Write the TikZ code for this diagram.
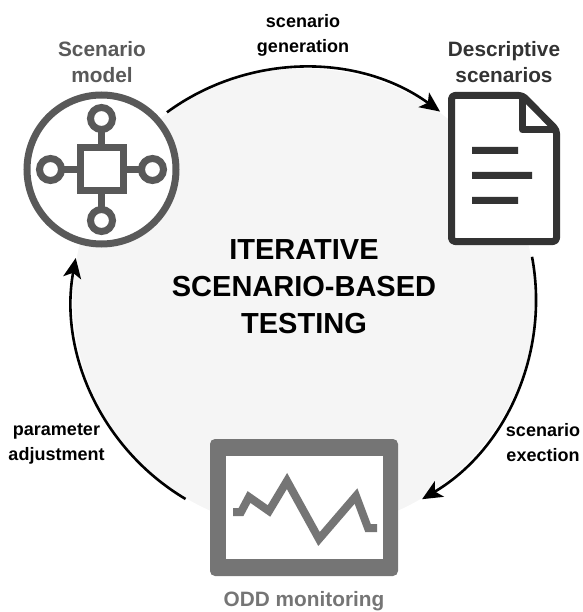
\documentclass[tikz,border=0pt]{standalone}
\usepackage{fontspec}
\setmainfont{Liberation Sans}
\usetikzlibrary{arrows.meta}
\definecolor{diskgray}{HTML}{F5F5F5}
\definecolor{modelgray}{HTML}{595959}
\definecolor{docgray}{HTML}{333333}
\definecolor{oddgray}{HTML}{757575}
\tikzset{
  flow/.style={line width=2.6pt,-{Stealth[length=20pt,width=18pt,inset=5pt]}},
  lab/.style={font=\bfseries\fontsize{18}{25}\selectfont,align=center,inner sep=0pt,text=black},
  head/.style={font=\bfseries\fontsize{20.8}{26.5}\selectfont,align=center,inner sep=0pt},
  modelline/.style={draw=modelgray,line width=7pt},
  docline/.style={draw=docgray,line width=7pt,line join=round},
  oddline/.style={draw=oddgray,line width=8pt,line join=miter}
}
\begin{document}
\begin{tikzpicture}[x=1pt,y=-1pt]
\useasboundingbox (0,0) rectangle (582,612);
\fill[diskgray] (304,299.5) circle[radius=231];
\node[font=\bfseries\fontsize{29}{37}\selectfont,align=center,inner sep=0pt] (title) at (304,287) {ITERATIVE\\SCENARIO-BASED\\TESTING};
% scenario model
\coordinate (mc) at (101.5,169.5);
\fill[white] (mc) circle[radius=78];
\draw[modelline] (mc) circle[radius=74.5];
\draw[modelline] (101.5,118.5)--(101.5,220.5) (50.5,169.5)--(152.5,169.5);
\draw[modelline,fill=white] (80,148) rectangle (123,191);
\draw[modelline,fill=white] (101.5,118.5) circle[radius=11] (101.5,220.5) circle[radius=11] (50.5,169.5) circle[radius=11] (152.5,169.5) circle[radius=11];
% document
\filldraw[docline,fill=white,rounded corners=3.5pt] (451.5,95.5)--(522.5,95.5)--(556.5,130)--(556.5,241.5)--(451.5,241.5)--cycle;
\draw[docline] (522.5,95.5)--(522.5,130)--(556.5,130);
\fill[docgray] (472,147) rectangle (518,154) (472,172) rectangle (532,179) (472,197) rectangle (518,204);
% ODD
\fill[oddgray,rounded corners=5pt] (210,439) rectangle (398,576);
\fill[white] (226,456) rectangle (383,559);
\draw[oddline] (233,512)--(241,512)--(249,497)--(269,511)--(287,481)--(319,539)--(356,496)--(368,528)--(377,528);
% labels
\node[head,text=modelgray] (m) at (102,62) {Scenario\\model};
\node[head,text=docgray] (d) at (504,62) {Descriptive\\scenarios};
\node[head,text=oddgray] (o) at (304,601) {ODD monitoring};
\node[lab] (l1) at (303,35.5) {scenario\\generation};
\node[lab] (l2) at (543,443) {scenario\\exection};
\node[lab] (l3) at (56.5,444) {parameter\\adjustment};
% arrows
\begin{scope}[shift={(304,299.5)}]
\coordinate (a1) at (233.8:232);
\coordinate (b1) at (-10.6:232);
\coordinate (c1) at (120.7:232);
\end{scope}
\draw[flow] (a1) arc[start angle=233.8,end angle=305.9,radius=232];
\draw[flow] (b1) arc[start angle=-10.6,end angle=59.4,radius=232];
\draw[flow] (c1) arc[start angle=120.7,end angle=190.3,radius=232];
\end{tikzpicture}
\end{document}
